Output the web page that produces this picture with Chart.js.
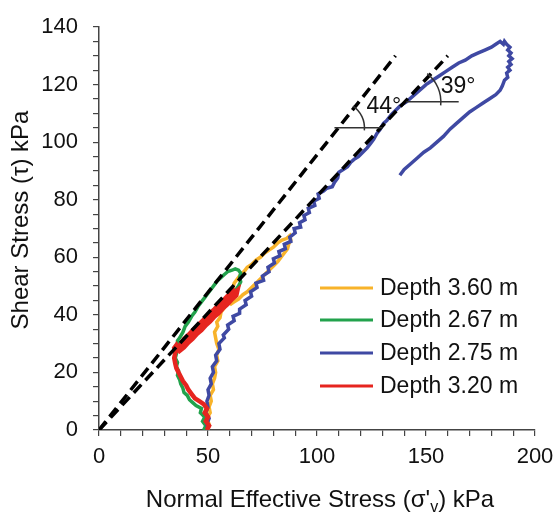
<!DOCTYPE html>
<html>
<head>
<meta charset="utf-8">
<script src="https://cdn.jsdelivr.net/npm/chart.js@4.4.1/dist/chart.umd.min.js"></script>
<style>
  html, body { margin: 0; padding: 0; background: #fff; }
  #wrap { width: 558px; height: 514px; }
</style>
</head>
<body>
<div id="wrap"><canvas id="chart" width="558" height="514"></canvas></div>
<script>
// tick labels
const xTickLabels = [0, 50, 100, 150, 200];
const yTickLabels = [0, 20, 40, 60, 80, 100, 120, 140];

// failure envelopes (dashed), through origin
const envelope44 = [[0, 0], [136, 130]];
const envelope39 = [[0, 0], [160, 130]];

// angle labels: horizontal reference line at y, from x0 to x1
const angleMarks = [
  { label: '44°', line: envelope44, y: 105, x0: 108, x1: 130, r: 26, tx: 130.7, ty: 112.2 },
  { label: '39°', line: envelope39, y: 114, x0: 141, x1: 165, r: 36, tx: 164.7, ty: 119.4 }
];

const seriesNames = ['Depth 3.60 m', 'Depth 2.67 m', 'Depth 2.75 m', 'Depth 3.20 m'];
const seriesColors = ['#F8B32A', '#22A24C', '#3F49A3', '#E6251F'];

// stress paths [sigma'v, tau]
const depth360 = [[50,0],[50.5,2],[49.5,4],[51,6],[50.5,8],[51.5,10],[51,12],[52.5,14],[52,16],[53,18],[53.5,20],[53,22],[54.5,24],[54,26],[55,28],[54,30],[53.5,32],[53,34],[54.5,36],[54,37.5],[55.5,39],[56,41],[57.5,42.5],[58,44.5],[59.5,46],[60,48],[61.5,49.5],[62,51],[63.5,52.5],[65,54],[66.5,55],[68,56.5],[70,57.5],[72,59],[74,60],[76,61.5],[78,62.5],[80,63.5],[82,65],[84,66],[86,66.5],[87.5,67.5],[88,66],[87,64.5],[86.5,63],[85,61.5],[83.5,60],[82,58.5],[80,57],[78,55.5],[76,54],[74,52.5],[72,51],[70,49.5],[68,48],[66,47],[64,45.5],[62,44.5],[60,43.5]];

const depth267 = [[48,0],[49,1.5],[47.5,3],[48.5,4.5],[46.5,6],[47,7.5],[44.5,8.5],[43,9.5],[41.5,10.5],[40.5,12],[39,13],[38.5,14.5],[37.5,16],[37,17.5],[36,19],[36.5,20.5],[35.5,22],[36,23.5],[35,25],[35.5,26.5],[35,28],[36,29.5],[36,31],[37,32],[38.5,34],[39.5,36],[41,37.5],[42.5,39.5],[44,41],[45.5,43],[47,44.5],[48.5,46],[50,47.5],[51.5,49],[53,50.5],[54.5,52],[56,53],[57.5,54],[59,55],[61,55.5],[62.5,56],[64,55.5],[65,54.5],[64.5,53],[65,51.5],[64,50],[63,49],[62,48]];

const depth275 = [[50,0],[49.5,2],[50.5,4],[49,6],[50,8],[49.5,10],[50.5,12],[50,14],[51.5,16],[51,18],[52.5,20],[52,22],[54,24],[53.5,26],[55.5,28],[55,30],[57.5,32],[57,33],[59.5,35],[59,36.5],[62,38],[61.5,39.5],[64.5,40.5],[64.5,42],[67.5,43.5],[67,45],[70,46.5],[69.5,48],[72.5,49.5],[72,51],[75.5,52],[75,53.5],[78,55],[77.5,56.5],[80.5,58],[80,59.5],[83,60.5],[82.5,62],[85.5,63],[85,64.5],[88,65.5],[87.5,67],[90,68.5],[89.5,70],[92.5,70.5],[92,72],[94.5,73],[94,74.5],[96.5,75.5],[96,77],[99,78],[98.5,79.5],[101,80.5],[100.5,82],[103,83],[104.5,84],[107,84.5],[108,86],[109.5,87.5],[110,89.5],[112,90.5],[114,91.5],[115.5,93],[117,94],[119,95],[121,96.5],[123,98],[124.5,99.5],[126,101],[127.5,103],[129,104.5],[130.5,106.5],[132,107.5],[134,109.5],[136,111],[138,112.5],[141,114],[144,116],[147,118],[150,120],[153,121.5],[156,123],[159,124.5],[162,126],[165,127.5],[168,128.5],[171,130],[174,131],[177,132],[180,133],[182,134],[184,135],[185.5,134],[186,135],[187,134],[188.5,133],[187.5,132],[189,131],[188,130],[189.5,129],[188,128],[189,127],[187.5,126],[188.5,125],[187,124],[187.5,122.5],[186,121.5],[185,119.5],[184,118],[182,116.5],[179,115],[176,113.5],[173,112],[170,110.5],[167,108.5],[164,106.5],[161,104.5],[158,102],[155,100],[152,98],[149,96.5],[146,94.5],[143,92.5],[140,90.5],[138,88.5]];

const depth320 = [[49.5,0],[50.5,1.5],[49,3],[50,4.5],[48.5,6],[49.5,7.5],[48,9],[46,10],[44,11],[42.5,12.5],[41,14],[40,15.5],[38.5,17],[37.5,18.5],[36.5,20],[35.5,21.5],[35,23],[34.5,25],[35,27],[34.5,28.5],[35.5,29.5],[37,27.5],[39,28.7],[41,30.4],[43,31.7],[45,33.4],[47,34.7],[49,36.4],[51,37.7],[53,39.4],[55,40.7],[57,42.4],[59,43.7],[61,45.4],[63,46.8],[63.5,48.5],[61,46.8],[59,45.4],[57,43.7],[55,42.4],[53,40.7],[51,39.4],[49,37.7],[47,36.4],[45,34.7],[43,33.4],[41,31.7],[39,30.4],[37,28.7],[37.5,30],[39,31.6],[41,33],[43,34.6],[45,36],[47,37.6],[49,39],[51,40.6],[53,42],[55,43.6],[57,45],[59,46.6],[61,48],[62.5,49]];

const FONT = '"Liberation Sans", Arial, sans-serif';

function toPoints(arr) {
    return arr.map(p => ({ x: p[0], y: p[1] }));
}

function pathDataset(name, data, color, order, width) {
    return {
        label: name,
        data: toPoints(data),
        borderColor: color,
        backgroundColor: color,
        borderWidth: width,
        pointRadius: 0,
        showLine: true,
        tension: 0,
        order: order
    };
}

function envelopeDataset(data) {
    return {
        label: 'envelope',
        data: toPoints(data),
        borderColor: '#000',
        borderWidth: 3.5,
        borderDash: [11, 6],
        pointRadius: 0,
        showLine: true,
        order: 0
    };
}

// draws titles, angle marks and the legend
const overlay = {
    id: 'overlay',
    afterDatasetsDraw(chart) {
        const ctx = chart.ctx;
        const x = chart.scales.x;
        const y = chart.scales.y;
        ctx.save();

        // angle marks
        angleMarks.forEach(m => {
            const slope = m.line[1][1] / m.line[1][0];
            const py = y.getPixelForValue(m.y);
            ctx.strokeStyle = '#333';
            ctx.lineWidth = 1.5;
            ctx.beginPath();
            ctx.moveTo(x.getPixelForValue(m.x0), py);
            ctx.lineTo(x.getPixelForValue(m.x1), py);
            ctx.stroke();

            const cx = x.getPixelForValue(m.y / slope);
            const ang = Math.atan2(
                y.getPixelForValue(slope * 100) - y.getPixelForValue(0),
                x.getPixelForValue(100) - x.getPixelForValue(0)
            );
            ctx.beginPath();
            ctx.arc(cx, py, m.r, ang - 0.08, 0.1);
            ctx.stroke();

            ctx.fillStyle = '#111';
            ctx.font = '23px ' + FONT;
            ctx.textAlign = 'center';
            ctx.textBaseline = 'middle';
            ctx.fillText(m.label, x.getPixelForValue(m.tx), y.getPixelForValue(m.ty));
        });

        // legend
        const rows = [288, 320, 353, 386];
        ctx.font = '23px ' + FONT;
        ctx.textAlign = 'left';
        ctx.textBaseline = 'middle';
        seriesNames.forEach((name, i) => {
            ctx.strokeStyle = seriesColors[i];
            ctx.lineWidth = 3;
            ctx.beginPath();
            ctx.moveTo(320, rows[i]);
            ctx.lineTo(373, rows[i]);
            ctx.stroke();
            ctx.fillStyle = '#111';
            ctx.fillText(name, 380, rows[i] + 1);
        });

        // y title
        ctx.save();
        ctx.translate(21, 220);
        ctx.rotate(-Math.PI / 2);
        ctx.font = '24px ' + FONT;
        ctx.textAlign = 'center';
        ctx.textBaseline = 'middle';
        ctx.fillText('Shear Stress (\u03c4) kPa', 0, 0);
        ctx.restore();

        // x title with subscript v
        const big = '24px ' + FONT;
        const small = '16px ' + FONT;
        const partA = 'Normal Effective Stress (\u03c3\'';
        const partB = 'v';
        const partC = ') kPa';
        ctx.font = big;
        const wA = ctx.measureText(partA).width;
        const wC = ctx.measureText(partC).width;
        ctx.font = small;
        const wB = ctx.measureText(partB).width;
        let tx = 320 - (wA + wB + wC) / 2;
        const base = 507;
        ctx.textAlign = 'left';
        ctx.textBaseline = 'alphabetic';
        ctx.font = big;
        ctx.fillText(partA, tx, base);
        tx += wA;
        ctx.font = small;
        ctx.fillText(partB, tx, base + 5);
        tx += wB;
        ctx.font = big;
        ctx.fillText(partC, tx, base);

        ctx.restore();
    }
};

const ctx = document.getElementById('chart').getContext('2d');
window.stressChart = new Chart(ctx, {
    type: 'scatter',
    data: {
        datasets: [
            envelopeDataset(envelope44),
            envelopeDataset(envelope39),
            pathDataset(seriesNames[3], depth320, seriesColors[3], 1, 4.5),
            pathDataset(seriesNames[2], depth275, seriesColors[2], 2, 3.5),
            pathDataset(seriesNames[1], depth267, seriesColors[1], 3, 3.5),
            pathDataset(seriesNames[0], depth360, seriesColors[0], 4, 3.5)
        ]
    },
    options: {
        responsive: false,
        animation: false,
        events: [],
        layout: { padding: { top: 27, right: 23, left: 0, bottom: 0 } },
        plugins: {
            legend: { display: false },
            tooltip: { enabled: false }
        },
        scales: {
            x: {
                type: 'linear',
                min: 0,
                max: 200,
                afterFit(scale) {
                    scale.height = 84;
                    scale.paddingLeft = 0;
                    scale.paddingRight = 0;
                },
                border: { display: true, color: '#444', width: 1.5 },
                grid: { drawOnChartArea: false, drawTicks: true, tickLength: 6, color: '#444', lineWidth: 1.2 },
                ticks: {
                    stepSize: 10,
                    autoSkip: false,
                    maxRotation: 0,
                    padding: 8,
                    color: '#111',
                    font: { family: FONT, size: 22 },
                    callback: v => xTickLabels.includes(v) ? String(v) : ''
                }
            },
            y: {
                type: 'linear',
                min: 0,
                max: 140,
                afterFit(scale) {
                    scale.width = 99;
                    scale.paddingTop = 0;
                    scale.paddingBottom = 0;
                },
                border: { display: true, color: '#444', width: 1.5 },
                grid: { drawOnChartArea: false, drawTicks: true, tickLength: 6, color: '#444', lineWidth: 1.2 },
                ticks: {
                    stepSize: 5,
                    autoSkip: false,
                    padding: 15,
                    color: '#111',
                    font: { family: FONT, size: 22 },
                    callback: v => yTickLabels.includes(v) ? String(v) : ''
                }
            }
        }
    },
    plugins: [overlay]
});
</script>
</body>
</html>
